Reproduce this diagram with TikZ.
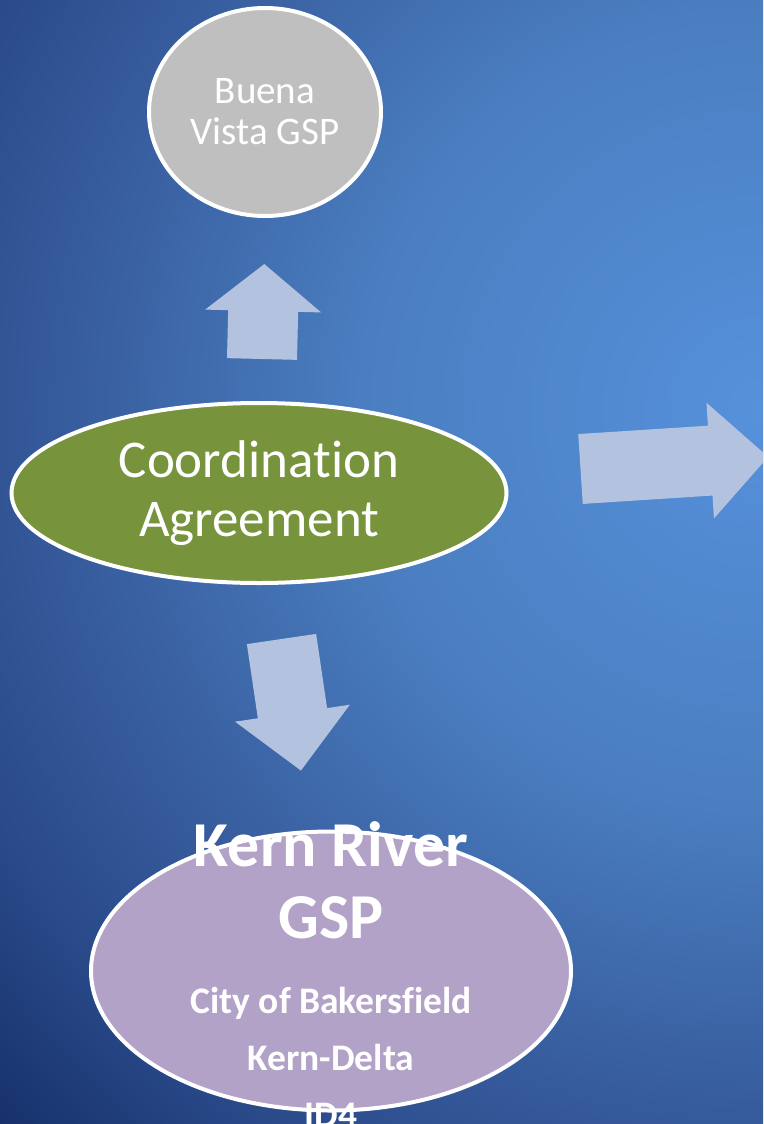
\documentclass[tikz,border=0pt]{standalone}
\usepackage{fontspec}
\setmainfont{Carlito}[Ligatures=NoCommon]
\usetikzlibrary{shapes.geometric}

\definecolor{glowA}{HTML}{5691DB}
\definecolor{glowB}{HTML}{4A7EC0}
\definecolor{glowC}{HTML}{35599A}
\definecolor{glowD}{HTML}{2A4A8A}
\definecolor{glowE}{HTML}{16306A}
\definecolor{bvgray}{HTML}{BFBFBF}
\definecolor{agreegreen}{HTML}{77933C}
\definecolor{kernlilac}{HTML}{B3A2C7}
\definecolor{arrowblue}{HTML}{B3C3DF}

% stops at distance/80 (circle of radius 2000)
\pgfdeclareradialshading{bgglow}{\pgfpoint{0bp}{0bp}}{%
  color(0bp)=(glowA); color(5bp)=(glowB); color(9bp)=(glowC);
  color(10.75bp)=(glowD); color(13.125bp)=(glowE); color(50bp)=(glowE)}

\tikzset{
  bubble/.style={ellipse, draw=white, line width=4pt, inner sep=0pt,
    text=white, align=center},
  arrowfill/.style={fill=arrowblue}
}

\begin{document}
\begin{tikzpicture}[x=1pt,y=-1pt]
  \def\blockarrow(#1)[#2]#3#4{%
    \begin{scope}[shift={(#1)},rotate=#2]
      \fill[arrowfill] (0,-35) -- (#3,-35) -- (#3,-58) -- ++(#4,58)
        -- (#3,58) -- (#3,35) -- (0,35) -- cycle;
    \end{scope}
  }

  \useasboundingbox (0,0) rectangle (763,1124);
  \clip (0,0) rectangle (763,1124);
  \shade[shading=bgglow] (760,410) circle (2000);

  \node[bubble, fill=bvgray, minimum width=232pt, minimum height=208pt,
    font=\fontsize{39}{41}\selectfont] (buena) at (265,112) {Buena\\Vista GSP};
  \node[bubble, fill=agreegreen, minimum width=495pt, minimum height=180pt,
    font=\fontsize{53}{59}\selectfont] (agree) at (259,493) {Coordination\\Agreement};
  \node[bubble, fill=kernlilac, minimum width=480pt, minimum height=279pt] (kern) at (331,971) {};
  \node[text=white, align=center, font=\bfseries\fontsize{64}{72}\selectfont]
    (kerntitle) at (331,880) {Kern River\\GSP};
  \node[text=white, align=center, font=\bfseries\fontsize{37.5}{57}\selectfont]
    (members) at (331,1057) {City of Bakersfield\\Kern-Delta\\ID4};

  \coordinate (uptail) at (262,359);
  \blockarrow(uptail)[88.6]{48}{47}
  \coordinate (downtail) at (281.5,639);
  \blockarrow(downtail)[-81.6]{75}{58}
  \coordinate (righttail) at (580.5,469);
  \blockarrow(righttail)[3.7]{130}{58}

\end{tikzpicture}
\end{document}
